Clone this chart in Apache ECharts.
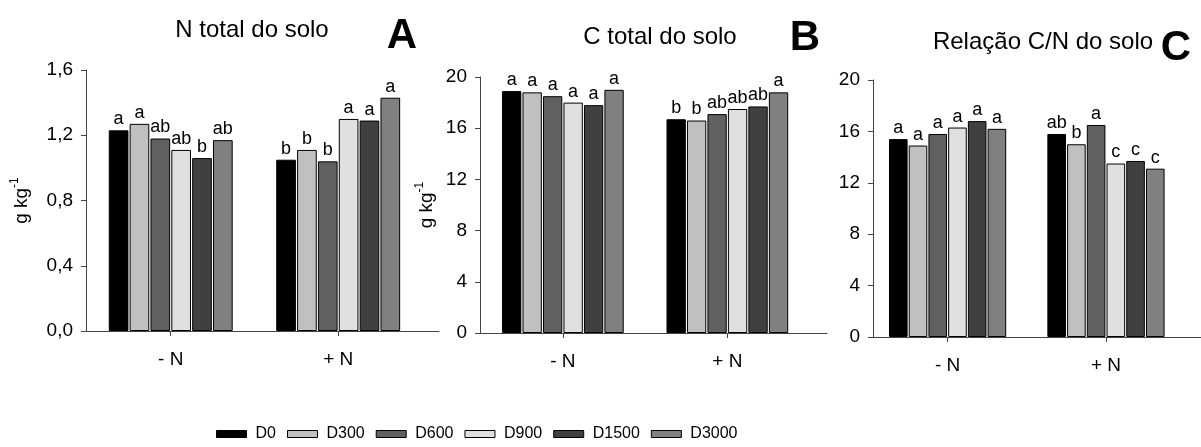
<!DOCTYPE html>
<html>
<head>
<meta charset="utf-8">
<style>
  html, body { margin: 0; padding: 0; background: #fff; }
  #chart { width: 1201px; height: 447px; }
</style>
<script src="https://cdn.jsdelivr.net/npm/echarts@6/dist/echarts.min.js"></script>
</head>
<body>
<div id="chart"></div>
<script>
// Treatment groups on the x axis and dose levels (one bar each)
const groups = ['- N', '+ N'];
const doses = ['D0', 'D300', 'D600', 'D900', 'D1500', 'D3000'];
const doseColors = ['#000000', '#c0c0c0', '#606060', '#e0e0e0', '#404040', '#808080'];

// A: soil total N (g kg-1)
const nTotalMinusN = [1.23, 1.27, 1.18, 1.11, 1.06, 1.17];
const nTotalPlusN  = [1.05, 1.11, 1.04, 1.30, 1.29, 1.43];
const nTotalMinusLetters = ['a', 'a', 'ab', 'ab', 'b', 'ab'];
const nTotalPlusLetters  = ['b', 'b', 'b', 'a', 'a', 'a'];
const nTotalTicks = [0, 0.4, 0.8, 1.2, 1.6];

// B: soil total C (g kg-1)
const cTotalMinusN = [18.9, 18.8, 18.5, 18.0, 17.8, 19.0];
const cTotalPlusN  = [16.7, 16.6, 17.1, 17.5, 17.7, 18.8];
const cTotalMinusLetters = ['a', 'a', 'a', 'a', 'a', 'a'];
const cTotalPlusLetters  = ['b', 'b', 'ab', 'ab', 'ab', 'a'];
const cTotalTicks = [0, 4, 8, 12, 16, 20];

// C: soil C/N ratio
const cnMinusN = [15.4, 14.9, 15.8, 16.3, 16.8, 16.2];
const cnPlusN  = [15.8, 15.0, 16.5, 13.5, 13.7, 13.1];
const cnMinusLetters = ['a', 'a', 'a', 'a', 'a', 'a'];
const cnPlusLetters  = ['ab', 'b', 'a', 'c', 'c', 'c'];
const cnTicks = [0, 4, 8, 12, 16, 20];

const FONT = '"Liberation Sans", Arial, Helvetica, sans-serif';
const AXIS_COLOR = '#444';

function tickRange(t) {
  return { min: t[0], max: t[t.length - 1], interval: t[1] - t[0] };
}

const panels = [
  { minus: nTotalMinusN, plus: nTotalPlusN, lm: nTotalMinusLetters, lp: nTotalPlusLetters,
    ticks: tickRange(nTotalTicks), decimals: 1, unit: true,
    grid: { left: 86, top: 70, width: 353, height: 261 }, xMin: -0.506, xMax: 1.602, nameGap: 55 },
  { minus: cTotalMinusN, plus: cTotalPlusN, lm: cTotalMinusLetters, lp: cTotalPlusLetters,
    ticks: tickRange(cTotalTicks), decimals: 0, unit: true,
    grid: { left: 480, top: 77, width: 347, height: 256 }, xMin: -0.504, xMax: 1.606, nameGap: 44 },
  { minus: cnMinusN, plus: cnPlusN, lm: cnMinusLetters, lp: cnPlusLetters,
    ticks: tickRange(cnTicks), decimals: 0, unit: false,
    grid: { left: 873, top: 80, width: 342, height: 257 }, xMin: -0.471, xMax: 1.60, nameGap: 40 }
];

const grids = [], xAxes = [], yAxes = [], series = [];

panels.forEach((p, pi) => {
  grids.push(Object.assign({ containLabel: false }, p.grid));

  xAxes.push({
    type: 'value',
    gridIndex: pi,
    min: p.xMin,
    max: p.xMax,
    splitLine: { show: false },
    axisLine: { show: true, onZero: false, lineStyle: { color: AXIS_COLOR, width: 1 } },
    axisTick: { show: true, customValues: [0, 1], length: 5, inside: false,
                lineStyle: { color: AXIS_COLOR } },
    axisLabel: { show: true, customValues: [0, 1], margin: 19,
                 formatter: v => groups[Math.round(v)],
                 color: '#000', fontSize: 19, fontFamily: FONT }
  });

  yAxes.push({
    type: 'value',
    gridIndex: pi,
    min: p.ticks.min,
    max: p.ticks.max,
    interval: p.ticks.interval,
    splitLine: { show: false },
    axisLine: { show: true, onZero: false, lineStyle: { color: AXIS_COLOR, width: 1 } },
    axisTick: { show: true, length: 5, lineStyle: { color: AXIS_COLOR } },
    axisLabel: {
      margin: 13, color: '#000', fontSize: 19, fontFamily: FONT,
      formatter: v => v.toFixed(p.decimals).replace('.', ',')
    },
    name: p.unit ? '{u|g kg}{s|-1}' : '',
    nameLocation: 'middle',
    nameRotate: 90,
    nameGap: p.nameGap,
    nameTextStyle: {
      rich: {
        u: { fontSize: 19, fontFamily: FONT, color: '#000', lineHeight: 22, verticalAlign: 'bottom' },
        s: { fontSize: 12, fontFamily: FONT, color: '#000', lineHeight: 22, verticalAlign: 'top' }
      }
    }
  });

  doses.forEach((d, i) => {
    series.push({
      type: 'bar',
      name: d,
      xAxisIndex: pi,
      yAxisIndex: pi,
      barCategoryGap: '26%',
      barGap: '6%',
      itemStyle: { color: doseColors[i], borderColor: '#000', borderWidth: 1 },
      label: {
        show: true, position: 'top', distance: 2,
        color: '#000', fontSize: 18, fontFamily: FONT,
        formatter: prm => (prm.dataIndex === 0 ? p.lm[i] : p.lp[i])
      },
      emphasis: { disabled: true },
      data: [[0, p.minus[i]], [1, p.plus[i]]]
    });
  });
});

const titleStyle = { color: '#000', fontSize: 24, fontWeight: 'normal', fontFamily: FONT };
const letterStyle = { color: '#000', fontSize: 42, fontWeight: 'bold', fontFamily: FONT };

const option = {
  backgroundColor: '#fff',
  animation: false,
  title: [
    { text: 'N total do solo', left: 252, top: 18, textAlign: 'center', padding: 0, textStyle: titleStyle },
    { text: 'A', left: 402, top: 15, textAlign: 'center', padding: 0, textStyle: letterStyle },
    { text: 'C total do solo', left: 660, top: 25, textAlign: 'center', padding: 0, textStyle: titleStyle },
    { text: 'B', left: 805, top: 17, textAlign: 'center', padding: 0, textStyle: letterStyle },
    { text: 'Relação C/N do solo', left: 1043, top: 30, textAlign: 'center', padding: 0, textStyle: titleStyle },
    { text: 'C', left: 1176, top: 27, textAlign: 'center', padding: 0, textStyle: letterStyle }
  ],
  legend: {
    data: doses,
    left: 216,
    top: 426,
    padding: 0,
    itemWidth: 30,
    itemHeight: 7,
    itemGap: 11,
    icon: 'rect',
    textStyle: { color: '#000', fontSize: 16, fontFamily: FONT, padding: [0, 0, 0, 4] },
    itemStyle: { borderColor: '#000', borderWidth: 1 }
  },
  grid: grids,
  xAxis: xAxes,
  yAxis: yAxes,
  series: series
};

const chart = echarts.init(document.getElementById('chart'), null, { renderer: 'canvas' });
chart.setOption(option);
</script>
</body>
</html>
